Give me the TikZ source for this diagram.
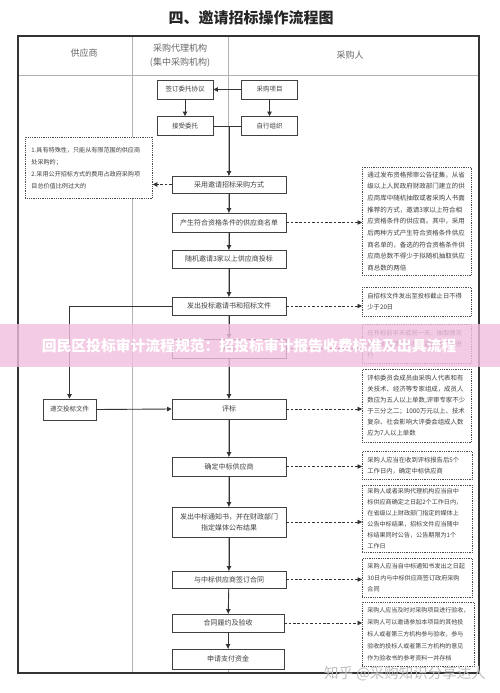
\documentclass[tikz,border=0pt]{standalone}
\usepackage{fontspec}
\newfontfamily\cjk{Noto Sans CJK SC}
\usetikzlibrary{arrows.meta}
\definecolor{bannerpink}{RGB}{242,190,222}
\begin{document}
\begin{tikzpicture}[x=1pt,y=-1pt,
  mbox/.style={draw=black!75,line width=0.9pt,fill=white,inner sep=0pt,align=center,text=black!75,font=\cjk\fontsize{7}{11}\selectfont,minimum width=114pt},
  tbox/.style={mbox,minimum width=56pt,minimum height=19pt,font=\cjk\fontsize{6.5}{8}\selectfont},
  note/.style={draw=black!70,densely dotted,line width=0.8pt,fill=white,inner xsep=5pt,inner ysep=0pt,align=left,anchor=north west,text=black!75,font=\cjk\fontsize{6.3}{11.3}\selectfont},
  flow/.style={draw=black!80,line width=0.9pt,-{Triangle[length=4.5pt,width=4.5pt]}},
  dflow/.style={draw=black!80,line width=0.8pt,dash pattern=on 2.5pt off 1.8pt,-{Triangle[length=4.5pt,width=4.5pt]}},
  hdr/.style={font=\cjk\fontsize{9}{14}\selectfont,text=black!60,align=center},
  grid/.style={draw=black!30,line width=0.7pt}
]
\useasboundingbox (0,0) rectangle (500,693);
\fill[white] (0,0) rectangle (500,693);

% title
\node[font=\cjk\bfseries\fontsize{15}{18}\selectfont,text=black!85] (title) at (251,18) {四、邀请招标操作流程图};

% frame and lanes
\draw[grid] (18,75) -- (479,75);
\draw[grid] (132,36) -- (132,673);
\draw[grid] (228,36) -- (228,673);
\draw[black!80,line width=1.1pt] (18,36) rectangle (479,673);

\node[hdr] (h1) at (84,53) {供应商};
\node[hdr] (h2) at (180,56) {采购代理机构\\(集中采购机构)};
\node[hdr] (h3) at (350,55) {采购人};

% top boxes
\node[tbox] (qd) at (185,89.5) {签订委托协议};
\node[tbox] (cg) at (269.5,89.5) {采购项目};
\node[tbox] (js) at (185,126) {接受委托};
\node[tbox] (zx) at (269.5,126) {自行组织};

% main flow boxes
\node[mbox,minimum height=17pt] (b3) at (229,184.5) {采用邀请招标采购方式};
\node[mbox,minimum height=19pt] (b4) at (229,222.5) {产生符合资格条件的供应商名单};
\node[mbox,minimum height=18pt] (b5) at (229,259) {随机邀请3家以上供应商投标};
\node[mbox,minimum height=18pt] (b6) at (229,306) {发出投标邀请书和招标文件};
\node[mbox,minimum height=19pt] (b7) at (229,348.5) {开标};
\node[mbox,minimum height=20pt] (b8) at (229,409) {评标};
\node[mbox,minimum height=19pt] (b9) at (229,466.5) {确定中标供应商};
\node[mbox,minimum height=30pt] (b10) at (229,522) {发出中标通知书，并在财政部门\\指定媒体公布结果};
\node[mbox,minimum height=17pt] (b11) at (229,579.5) {与中标供应商签订合同};
\node[mbox,minimum height=18pt,minimum width=112pt] (b12) at (228,623) {合同履约及验收};
\node[mbox,minimum height=20pt,minimum width=112pt] (b13) at (228,659) {申请支付资金};

\node[mbox,minimum width=53pt,minimum height=21pt,font=\cjk\fontsize{6.5}{8}\selectfont] (sub) at (69.5,409.5) {递交投标文件};

% notes
\node[note,minimum width=127pt,minimum height=61pt,text width=115pt,inner xsep=6pt,font=\cjk\fontsize{6.1}{12}\selectfont] (n0) at (25,137) {1.具有特殊性，只能从有限范围的供应商\\处采购的；\\2.采用公开招标方式的费用占政府采购项\\目总价值比例过大的};

\node[note,minimum width=109pt,minimum height=108pt,text width=99pt,font=\cjk\fontsize{6.5}{11.7}\selectfont] (n1) at (362,167) {通过发布资格预审公告征集，从省\\级以上人民政府财政部门建立的供\\应商库中随机抽取或者采购人书面\\推荐的方式，邀请3家以上符合相\\应资格条件的供应商。其中，采用\\后两种方式产生符合资格条件供应\\商名单的，备选的符合资格条件供\\应商总数不得少于拟随机抽取供应\\商总数的两倍};

\node[note,minimum width=109pt,minimum height=29pt,text width=99pt] (n2) at (362,287) {自招标文件发出至投标截止日不得\\少于20日};

\node[note,minimum width=109pt,minimum height=39pt,text width=99pt] (n3) at (362,324) {在开标前半天或前一天，抽取情况\\应当由监督人员在场监督并记录进\\行};

\node[note,minimum width=109pt,minimum height=73pt,text width=99pt,font=\cjk\fontsize{6.4}{11}\selectfont] (n4) at (362,369) {评标委员会成员由采购人代表和有\\关技术、经济等专家组成，成员人\\数应为五人以上单数,评审专家不少\\于三分之二；1000万元以上、技术\\复杂、社会影响大评委会组成人数\\应为7人以上单数};

\node[note,minimum width=110pt,minimum height=28pt,text width=100pt] (n5) at (362,451) {采购人应当在收到评标报告后5个\\工作日内，确定中标供应商};

\node[note,minimum width=110pt,minimum height=67pt,text width=100pt,font=\cjk\fontsize{6.1}{11}\selectfont] (n6) at (362,485) {采购人或者采购代理机构应当自中\\标供应商确定之日起2个工作日内，\\在省级以上财政部门指定的媒体上\\公告中标结果，招标文件应当随中\\标结果同时公告，公告期限为1个\\工作日};

\node[note,minimum width=110pt,minimum height=39pt,text width=100pt,font=\cjk\fontsize{6.1}{11.3}\selectfont] (n7) at (362,558) {采购人应当自中标通知书发出之日起\\30日内与中标供应商签订政府采购\\合同};

\node[note,minimum width=112pt,minimum height=64pt,text width=102pt,font=\cjk\fontsize{6}{12}\selectfont] (n8) at (362,602) {采购人应当及时对采购项目进行验收，\\采购人可以邀请参加本项目的其他投\\标人或者第三方机构参与验收，参与\\验收的投标人或者第三方机构的意见\\作为验收书的参考资料一并存档};

% top connectors
\draw[flow] (cg.west) -- (qd.east);
\draw[flow] (qd.south) -- (js.north);
\draw[flow] (cg.south) -- (zx.north);
\draw[draw=black!80,line width=0.9pt] (js.east) -- (zx.west);
\draw[flow] (js.east -| b3.north) -- (b3.north);

% main connectors
\draw[flow] (b3) -- (b4);
\draw[flow] (b4) -- (b5);
\draw[flow] (b5) -- (b6);
\draw[flow] (b6) -- (b7);
\draw[flow] (b7) -- (b8);
\draw[flow] (b8) -- (b9);
\draw[flow] (b9) -- (b10);
\draw[flow] (b10) -- (b11);
\draw[flow] (b11) -- (b12);
\draw[flow] (b12) -- (b13);
\draw[flow] (b6.west) -| (sub.north);
\draw[flow] (sub.east) -- (b8.west);

% dashed connectors
\draw[dflow] (b3.west) -- (n0.east |- b3.west);
\draw[dflow] (b4.east) -- (n1.west |- b4.east);
\draw[dflow] (b6.east) -- (n2.west |- b6.east);
\draw[dflow] (b7.east) -- (n3.west |- b7.east);
\draw[dflow] (b8.east) -- (n4.west |- b8.east);
\draw[dflow] (b9.east) -- (n5.west |- b9.east);
\draw[dflow] (b10.east) -- (n6.west |- b10.east);
\draw[dflow] (b11.east) -- (n7.west |- b11.east);
\draw[dflow] (b12.east) -- (n8.west |- b12.east);

% watermark banner
\fill[bannerpink,opacity=0.8] (0,324) rectangle (500,367);
\node[font=\cjk\bfseries\fontsize{14.8}{18}\selectfont,text=white] (bt) at (249,346) {回民区投标审计流程规范：招投标审计报告收费标准及出具流程};
\node[font=\cjk\fontsize{14.5}{16}\selectfont,text=black!25] (wm) at (405,674) {知乎 @采购知识分享达人};
\end{tikzpicture}
\end{document}
